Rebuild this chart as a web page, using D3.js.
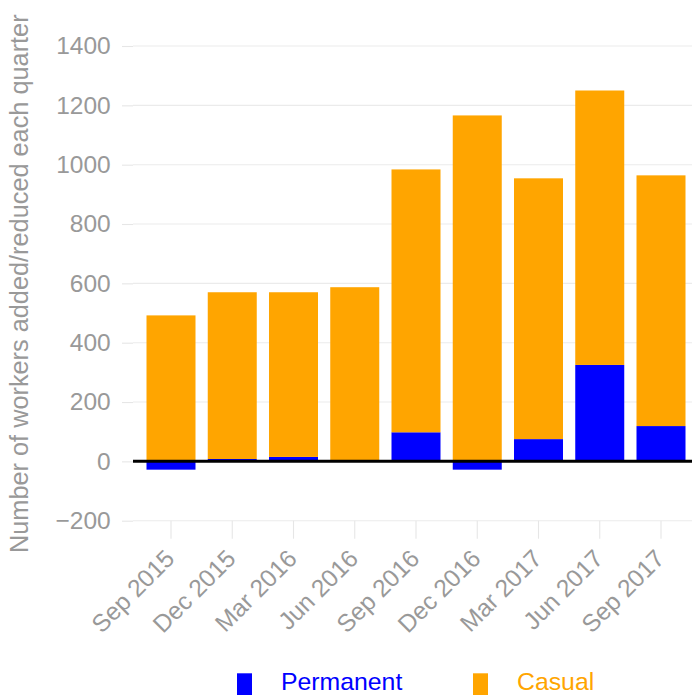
<!DOCTYPE html>
<html><head><meta charset="utf-8">
<script src="https://cdn.jsdelivr.net/npm/d3@7"></script>
<style>body{margin:0;background:#fff}svg{display:block;font-family:"Liberation Sans",Arial,sans-serif}</style>
</head><body>
<svg id="c" width="692" height="695"></svg>
<script>
const quarters = ["Sep 2015","Dec 2015","Mar 2016","Jun 2016","Sep 2016","Dec 2016","Mar 2017","Jun 2017","Sep 2017"];
const permanent = [-28, 8, 15, 0, 98, -28, 75, 325, 119];
const casual = [492, 562, 555, 587, 886, 1166, 879, 925, 845];
const yTicks = [-200, 0, 200, 400, 600, 800, 1000, 1200, 1400];
const seriesNames = ["Permanent", "Casual"];
const colors = {Permanent: "#0000FF", Casual: "#FFA500"};
const FONT = "Liberation Sans, Arial, sans-serif";

const svg = d3.select("#c");
const rows = quarters.map((q, i) => ({q, Permanent: permanent[i], Casual: casual[i]}));

const left = 134.25, step = 61.25;
// first band center = left + 0.6*step (discrete axis expansion)
const x = d3.scaleBand().domain(quarters)
  .range([left + 0.1 * step, left + 0.1 * step + step * quarters.length])
  .paddingInner(0.2).paddingOuter(0.1);

const y = d3.scaleLinear().domain([-200, 1400]).range([520.7, 46]);

svg.append("g").selectAll("line").data(yTicks).join("line")
  .attr("x1", 133).attr("x2", 692)
  .attr("y1", d => y(d)).attr("y2", d => y(d))
  .attr("stroke", "#ebebeb").attr("stroke-width", 1.1);

// y axis
const yAxis = svg.append("g").attr("transform", "translate(133,0)")
  .call(d3.axisLeft(y).tickValues(yTicks).tickSize(11).tickPadding(11.3)
    .tickFormat(d => d < 0 ? "\u2212" + Math.abs(d) : d));
yAxis.select(".domain").remove();
yAxis.selectAll(".tick line").attr("stroke", "#e6e6e6").attr("stroke-width", 1.1);
yAxis.selectAll(".tick text").attr("fill", "#999999").attr("font-size", 24.5).attr("font-family", FONT);

// x axis
const xAxis = svg.append("g").attr("transform", "translate(0,520.7)")
  .call(d3.axisBottom(x).tickSize(18).tickSizeOuter(0).tickPadding(0));
xAxis.select(".domain").remove();
xAxis.selectAll(".tick line").attr("stroke", "#e6e6e6").attr("stroke-width", 1.1);
xAxis.selectAll(".tick text")
  .attr("fill", "#999999").attr("font-size", 24.5).attr("font-family", FONT)
  .attr("text-anchor", "end").attr("y", 0).attr("dy", "0.9em")
  .attr("transform", "translate(-10.6,23.7) rotate(-45)");

// bars
const series = d3.stack().keys(seriesNames).offset(d3.stackOffsetDiverging)(rows);
svg.append("g").selectAll("g").data(series).join("g")
  .attr("fill", d => colors[d.key])
  .selectAll("rect").data(d => d).join("rect")
  .attr("x", d => x(d.data.q)).attr("width", x.bandwidth())
  .attr("y", d => y(Math.max(d[0], d[1])))
  .attr("height", d => Math.abs(y(d[0]) - y(d[1])));

// zero line
svg.append("line").attr("x1", 133).attr("x2", 692)
  .attr("y1", y(0)).attr("y2", y(0)).attr("stroke", "#000").attr("stroke-width", 3);

// y title
svg.append("text").attr("transform", "translate(27.5,283.7) rotate(-90)")
  .attr("text-anchor", "middle").attr("fill", "#999999").attr("font-size", 25.3).attr("font-family", FONT)
  .text("Number of workers added/reduced each quarter");

// legend
const legX = [237, 473];
seriesNames.forEach((s, i) => {
  svg.append("rect").attr("x", legX[i]).attr("y", 673.3).attr("width", 15).attr("height", 22).attr("fill", colors[s]);
  svg.append("text").attr("x", legX[i] + 44).attr("y", 689.5).attr("fill", colors[s])
    .attr("font-size", 24.8).attr("font-family", FONT).text(s);
});
</script>
</body></html>
